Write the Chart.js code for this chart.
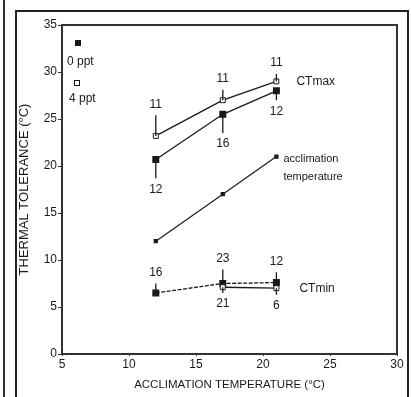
<!DOCTYPE html>
<html><head><meta charset="utf-8">
<script src="https://cdn.jsdelivr.net/npm/chart.js@4/dist/chart.umd.min.js"></script>
<style>
html,body{margin:0;padding:0;background:#fff;}
#wrap{position:relative;width:411px;height:397px;overflow:hidden;}
#outer{position:absolute;left:3px;top:0;width:2px;height:397px;background:#333;}
#frame{position:absolute;left:15px;top:10px;width:390px;height:400px;border:2px solid #222;}
canvas{position:absolute;left:0;top:0;}
</style></head>
<body><div id="wrap"><div id="outer"></div><div id="frame"></div><canvas id="c" width="411" height="397"></canvas></div>
<script>
const temps = [12, 17, 21];
const ctmax0 = [20.7, 25.5, 28.0];
const ctmax4 = [23.2, 27.0, 29.0];
const acclim = [12, 17, 21];
const ctmin0 = [6.5, 7.5, 7.6];
const ctmin4 = [null, 7.1, 7.0];
const ctmax4Up = [2.2, 1.1, 0.8];
const ctmax0Down = [2.0, 2.0, 1.0];
const ctmin0Up = [1.0, 1.5, 1.1];
const ctmin4Down = [null, 0.6, 0.7];
const ctmax4N = ['11', '11', '11'];
const ctmax0N = ['12', '16', '12'];
const ctmin0N = ['16', '23', '12'];
const ctmin4N = [null, '21', '6'];
const xTicks = [5, 10, 15, 20, 25, 30];
const yTicks = [0, 5, 10, 15, 20, 25, 30, 35];

const FONT = 'Liberation Sans, Arial, sans-serif';
const INK = '#1a1a1a';
const pts = (ys) => temps.map((t, i) => ({x: t, y: ys[i]}));

const annot = {
  id: 'annot',
  afterDatasetsDraw(chart) {
    const ctx = chart.ctx, xs = chart.scales.x, ys = chart.scales.y;
    const ca = chart.chartArea;
    ctx.save();
    ctx.strokeStyle = INK; ctx.lineWidth = 1.3;
    ctx.fillStyle = INK; ctx.font = '12px ' + FONT;
    ctx.textAlign = 'center'; ctx.textBaseline = 'middle';
    function bar(vals, errs, labels, dir) {
      temps.forEach((t, i) => {
        if (vals[i] == null || errs[i] == null) return;
        const px = xs.getPixelForValue(t);
        const y0 = ys.getPixelForValue(vals[i]);
        const y1 = ys.getPixelForValue(vals[i] + dir * errs[i]);
        ctx.beginPath(); ctx.moveTo(px, y0); ctx.lineTo(px, y1); ctx.stroke();
        if (labels[i]) ctx.fillText(labels[i], px, y1 - dir * 11);
      });
    }
    bar(ctmax4, ctmax4Up, ctmax4N, 1);
    bar(ctmax0, ctmax0Down, ctmax0N, -1);
    bar(ctmin0, ctmin0Up, ctmin0N, 1);
    bar(ctmin4, ctmin4Down, ctmin4N, -1);
    ctx.textAlign = 'left';
    ctx.font = '12px ' + FONT;
    ctx.fillText('CTmax', xs.getPixelForValue(21) + 20, ys.getPixelForValue(29.0));
    ctx.fillText('CTmin', xs.getPixelForValue(21) + 23, ys.getPixelForValue(7.0));
    ctx.font = '11px ' + FONT;
    ctx.fillText('acclimation', xs.getPixelForValue(21) + 7, ys.getPixelForValue(21) + 2);
    ctx.fillText('temperature', xs.getPixelForValue(21) + 7, ys.getPixelForValue(21) + 20);
    ctx.font = '12px ' + FONT;
    ctx.fillRect(ca.left + 13, ca.top + 15, 6, 6);
    ctx.fillText('0 ppt', ca.left + 5, ca.top + 37);
    ctx.lineWidth = 1;
    ctx.strokeRect(ca.left + 12.5, ca.top + 55.5, 5, 5);
    ctx.fillText('4 ppt', ca.left + 7, ca.top + 74);
    ctx.lineWidth = 2; ctx.strokeStyle = '#333';
    ctx.strokeRect(ca.left, ca.top, ca.right - ca.left, ca.bottom - ca.top);
    ctx.restore();
  }
};

new Chart(document.getElementById('c'), {
  type: 'line',
  data: {
    datasets: [
      {label: 'CTmax 4 ppt', data: pts(ctmax4), borderColor: INK, borderWidth: 1.3,
       pointStyle: 'rect', pointRadius: 3.5, pointBackgroundColor: '#fff', pointBorderColor: INK, pointBorderWidth: 1},
      {label: 'CTmax 0 ppt', data: pts(ctmax0), borderColor: INK, borderWidth: 1.3,
       pointStyle: 'rect', pointRadius: 4, pointBackgroundColor: INK, pointBorderColor: INK},
      {label: 'acclimation temperature', data: pts(acclim), borderColor: INK, borderWidth: 1.2,
       pointStyle: 'rect', pointRadius: 2.2, pointBackgroundColor: INK, pointBorderColor: INK},
      {label: 'CTmin 4 ppt', data: pts(ctmin4), borderColor: INK, borderWidth: 1.3,
       pointStyle: 'rect', pointRadius: 3.5, pointBackgroundColor: '#fff', pointBorderColor: INK, pointBorderWidth: 1},
      {label: 'CTmin 0 ppt', data: pts(ctmin0), borderColor: INK, borderWidth: 1.3, borderDash: [4, 1.5],
       pointStyle: 'rect', pointRadius: 4, pointBackgroundColor: INK, pointBorderColor: INK}
    ]
  },
  options: {
    responsive: false, animation: false,
    layout: {padding: {left: 0, right: 14, top: 25, bottom: 0}},
    plugins: {legend: {display: false}, tooltip: {enabled: false}},
    scales: {
      x: {type: 'linear', min: 5, max: 30,
          afterBuildTicks: (s) => { s.ticks = xTicks.map(v => ({value: v})); },
          afterFit: (s) => { s.height = 43; },
          grid: {display: true, drawOnChartArea: false, tickLength: 2, color: '#333'},
          border: {display: true, color: '#333', width: 2},
          ticks: {color: INK, padding: 1, font: {family: FONT, size: 12}, maxRotation: 0},
          title: {display: true, text: 'ACCLIMATION TEMPERATURE (°C)', color: INK,
                  font: {family: FONT, size: 11.5}, padding: {top: 0, bottom: 5}}},
      y: {type: 'linear', min: 0, max: 35,
          afterBuildTicks: (s) => { s.ticks = yTicks.map(v => ({value: v})); },
          afterFit: (s) => { s.width = 62; },
          grid: {display: true, drawOnChartArea: false, tickLength: 4, color: '#333'},
          border: {display: true, color: '#333', width: 2},
          ticks: {color: INK, padding: 1, font: {family: FONT, size: 12}},
          title: {display: true, text: 'THERMAL TOLERANCE (°C)', color: INK,
                  font: {family: FONT, size: 13}, padding: {top: 17, bottom: 0}}}
    }
  },
  plugins: [annot]
});
</script></body></html>
